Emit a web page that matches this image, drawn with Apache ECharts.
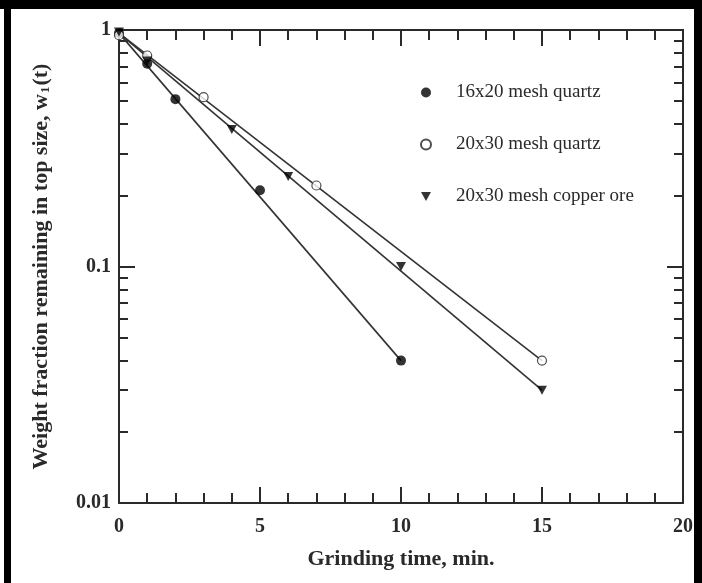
<!DOCTYPE html>
<html>
<head>
<meta charset="utf-8">
<script src="https://cdn.jsdelivr.net/npm/echarts@6/dist/echarts.min.js"></script>
<style>
html, body { margin: 0; padding: 0; background: #fff; }
#main { position: absolute; left: 0; top: 0; width: 702px; height: 583px; }
.bar { position: absolute; background: #000; }
</style>
</head>
<body>
<div id="main"></div>
<div class="bar" style="left:0;top:0;width:702px;height:9px"></div>
<div class="bar" style="left:4px;top:0;width:7px;height:583px"></div>
<div class="bar" style="left:694px;top:0;width:8px;height:583px"></div>
<script>
// measured points: grinding time (min) and weight fraction left in top size
var quartz1620Time = [0, 1, 2, 5, 10];
var quartz1620Frac = [0.97, 0.72, 0.51, 0.21, 0.04];
var quartz2030Time = [0, 1, 3, 7, 15];
var quartz2030Frac = [0.95, 0.78, 0.52, 0.22, 0.04];
var copperTime = [0, 1, 4, 6, 10, 15];
var copperFrac = [0.98, 0.74, 0.38, 0.24, 0.10, 0.03];

// first-order fit lines, start and end
var fit1620Time = [0, 10];
var fit1620Frac = [0.97, 0.04];
var fit2030Time = [0, 15];
var fit2030Frac = [0.97, 0.04];
var fitCopperTime = [0, 15];
var fitCopperFrac = [0.97, 0.03];

var seriesNames = ['16x20 mesh quartz', '20x30 mesh quartz', '20x30 mesh copper ore'];
var yMajorTicks = [0.01, 0.1, 1];
var yMinorTicks = [0.02, 0.03, 0.04, 0.05, 0.06, 0.07, 0.08, 0.09,
                   0.2, 0.3, 0.4, 0.5, 0.6, 0.7, 0.8, 0.9];

function pairs(xs, ys) {
    var out = [];
    for (var i = 0; i < xs.length; i++) {
        out.push([xs[i], ys[i]]);
    }
    return out;
}

var serif = "'Liberation Serif', 'Times New Roman', serif";
var ink = '#2a2a2a';
var tri = 'path://M0,0 L10,0 L5,9 Z';

function xAxisOf(pos, showLabel) {
    return {
        type: 'value', min: 0, max: 20, interval: 5, position: pos,
        axisLine: { lineStyle: { color: ink, width: 2 } },
        axisTick: { inside: true, length: 16, lineStyle: { color: ink, width: 2 } },
        minorTick: { show: true, splitNumber: 5, length: 10, lineStyle: { color: ink, width: 2 } },
        splitLine: { show: false },
        axisLabel: {
            show: showLabel, margin: 14, color: ink,
            fontFamily: serif, fontWeight: 'bold', fontSize: 20
        }
    };
}

function yAxisOf(pos, ticks, len, showLine, showLabel) {
    return {
        type: 'log', logBase: 10, min: 0.01, max: 1, position: pos,
        axisLine: { show: showLine, lineStyle: { color: ink, width: 2 } },
        axisTick: { inside: true, length: len, customValues: ticks, lineStyle: { color: ink, width: 2 } },
        splitLine: { show: false },
        axisLabel: {
            show: showLabel, customValues: ticks, margin: 8, color: ink,
            fontFamily: serif, fontWeight: 'bold', fontSize: 20,
            formatter: function (v) { return String(v); }
        }
    };
}

var xBottom = xAxisOf('bottom', true);
xBottom.name = 'Grinding time, min.';
xBottom.nameLocation = 'middle';
xBottom.nameGap = 45;
xBottom.nameTextStyle = { color: ink, fontFamily: serif, fontWeight: 'bold', fontSize: 22 };

var yLeft = yAxisOf('left', yMajorTicks, 16, true, true);
yLeft.name = 'Weight fraction remaining in top size, w{sub|1}(t)';
yLeft.nameLocation = 'middle';
yLeft.nameGap = 67;
yLeft.nameTextStyle = {
    color: ink, fontFamily: serif, fontWeight: 'bold', fontSize: 22,
    rich: { sub: { fontSize: 13, fontFamily: serif, fontWeight: 'bold', color: ink, verticalAlign: 'bottom', padding: [9, 1, 0, 1] } }
};

var chart = echarts.init(document.getElementById('main'));
chart.setOption({
    animation: false,
    backgroundColor: '#fff',
    grid: { left: 119, top: 30, right: 19, bottom: 80, outerBoundsMode: 'none' },
    legend: {
        orient: 'vertical', left: 415, top: 78, itemGap: 33,
        itemWidth: 10, itemHeight: 10,
        data: seriesNames,
        textStyle: { fontFamily: serif, fontSize: 19, color: ink, padding: [0, 0, 0, 20] }
    },
    xAxis: [xBottom, xAxisOf('top', false)],
    yAxis: [
        yLeft,
        yAxisOf('left', yMinorTicks, 9, false, false),
        yAxisOf('right', yMajorTicks, 16, true, false),
        yAxisOf('right', yMinorTicks, 9, false, false)
    ],
    series: [
        { name: 'fit 16x20', type: 'line', data: pairs(fit1620Time, fit1620Frac), showSymbol: false, silent: true, lineStyle: { color: '#333', width: 1.6 }, z: 1 },
        { name: 'fit 20x30', type: 'line', data: pairs(fit2030Time, fit2030Frac), showSymbol: false, silent: true, lineStyle: { color: '#333', width: 1.6 }, z: 1 },
        { name: 'fit copper', type: 'line', data: pairs(fitCopperTime, fitCopperFrac), showSymbol: false, silent: true, lineStyle: { color: '#333', width: 1.6 }, z: 1 },
        { name: seriesNames[0], type: 'scatter', data: pairs(quartz1620Time, quartz1620Frac), symbol: 'circle', symbolSize: 10, itemStyle: { color: '#000' }, z: 3 },
        { name: seriesNames[1], type: 'scatter', data: pairs(quartz2030Time, quartz2030Frac), symbol: 'circle', symbolSize: 9, itemStyle: { color: '#fff', borderColor: '#222', borderWidth: 1.2 }, z: 3 },
        { name: seriesNames[2], type: 'scatter', data: pairs(copperTime, copperFrac), symbol: tri, symbolSize: [10, 9], itemStyle: { color: '#000' }, z: 3 }
    ]
});
</script>
</body>
</html>
